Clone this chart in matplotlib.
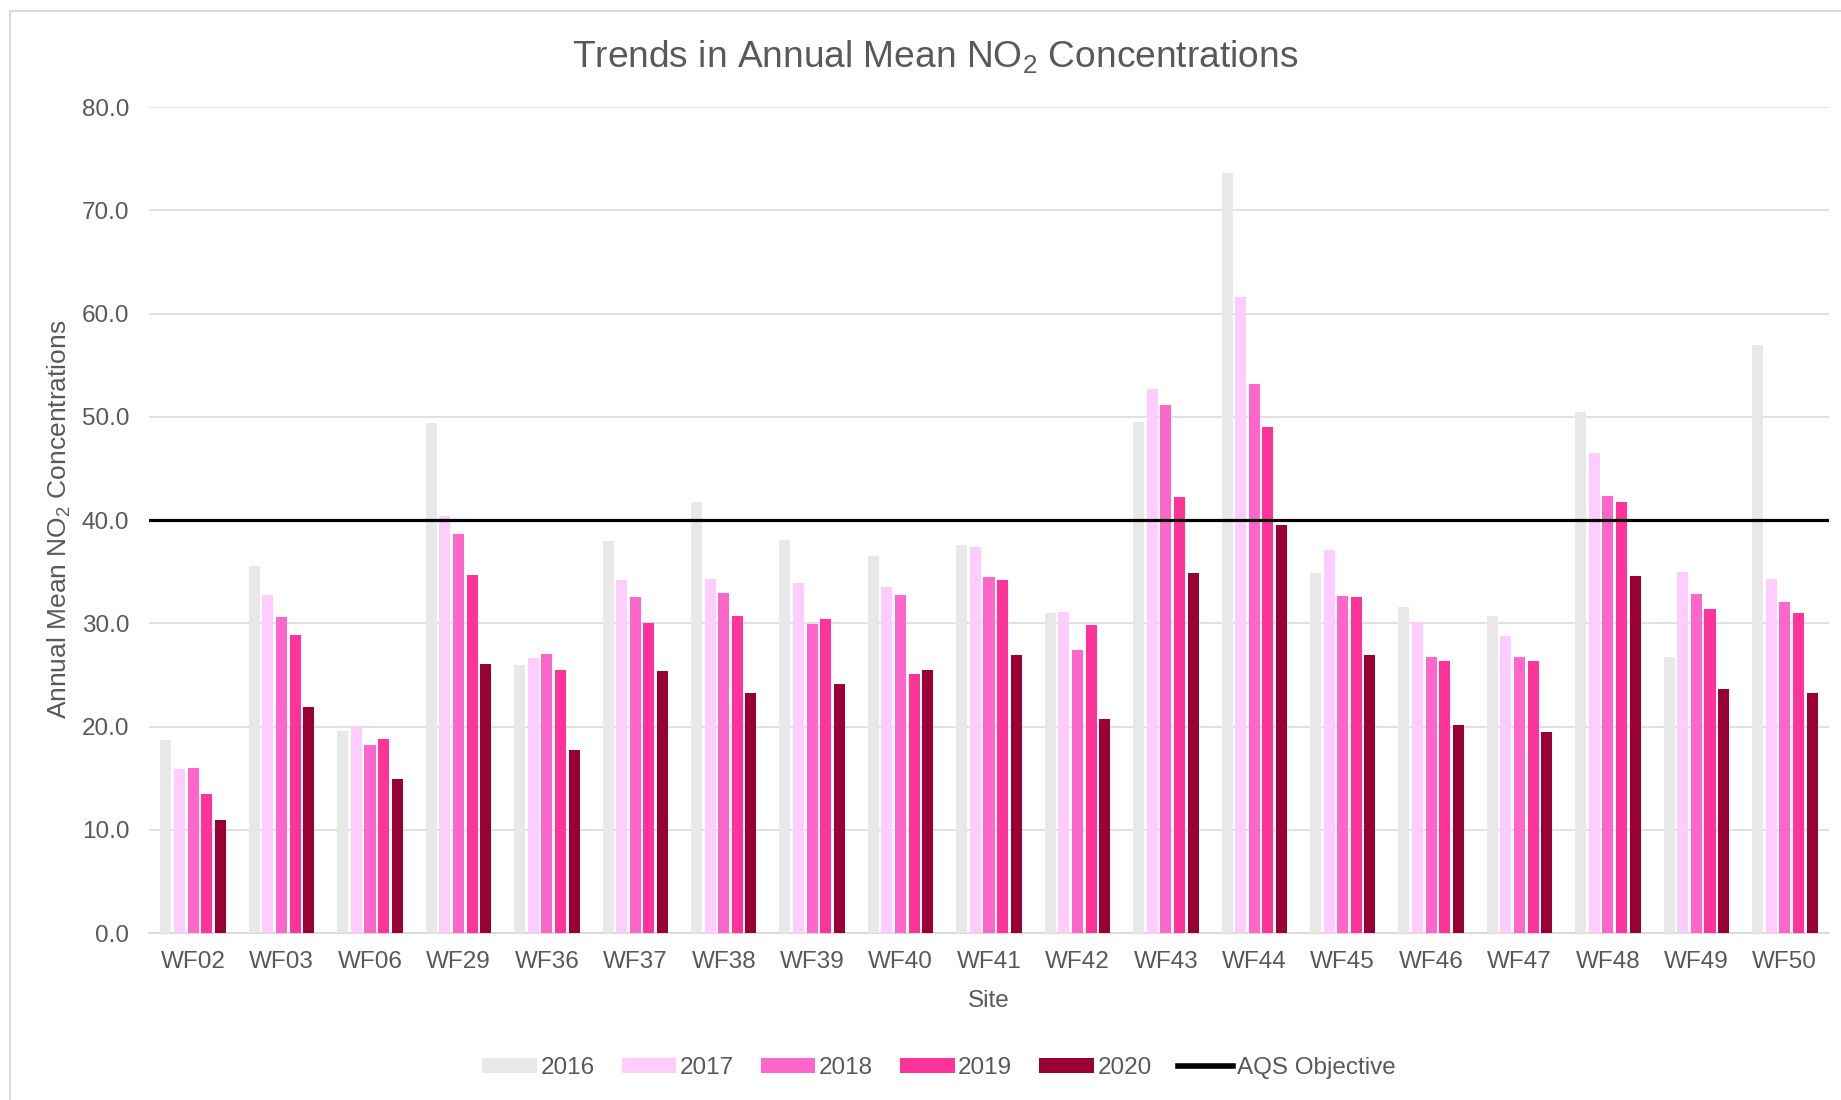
import numpy as np
import matplotlib
matplotlib.use("Agg")
import matplotlib.pyplot as plt
from matplotlib.patches import Rectangle, Patch
from matplotlib.lines import Line2D

plt.rcParams['font.family'] = ['Liberation Sans', 'DejaVu Sans']
plt.rcParams['mathtext.fontset'] = 'custom'
plt.rcParams['mathtext.rm'] = 'Liberation Sans'
plt.rcParams['mathtext.it'] = 'Liberation Sans'
plt.rcParams['mathtext.bf'] = 'Liberation Sans'
plt.rcParams['mathtext.default'] = 'regular'

sites = ["WF02", "WF03", "WF06", "WF29", "WF36", "WF37", "WF38", "WF39", "WF40", "WF41",
         "WF42", "WF43", "WF44", "WF45", "WF46", "WF47", "WF48", "WF49", "WF50"]
years = ["2016", "2017", "2018", "2019", "2020"]

no2_2016 = [18.7, 35.5, 19.6, 49.4, 26.0, 38.0, 41.7, 38.1, 36.5, 37.6,
            31.0, 49.5, 73.6, 34.9, 31.6, 30.7, 50.5, 26.7, 57.0]
no2_2017 = [15.9, 32.7, 20.0, 40.4, 26.6, 34.2, 34.3, 33.9, 33.5, 37.4,
            31.1, 52.7, 61.6, 37.1, 30.1, 28.8, 46.5, 35.0, 34.3]
no2_2018 = [16.0, 30.6, 18.2, 38.6, 27.0, 32.5, 32.9, 29.9, 32.7, 34.5,
            27.4, 51.1, 53.2, 32.6, 26.7, 26.7, 42.3, 32.8, 32.1]
no2_2019 = [13.5, 28.9, 18.8, 34.7, 25.5, 30.0, 30.7, 30.4, 25.1, 34.2,
            29.8, 42.2, 49.0, 32.5, 26.3, 26.3, 41.7, 31.4, 31.0]
no2_2020 = [10.9, 21.9, 14.9, 26.1, 17.7, 25.4, 23.2, 24.1, 25.5, 26.9,
            20.7, 34.9, 39.5, 26.9, 20.1, 19.5, 34.6, 23.6, 23.2]
aqs_objective = 40.0

series = [no2_2016, no2_2017, no2_2018, no2_2019, no2_2020]
colors = ["#E8E8E8", "#FFCCFF", "#FF66CC", "#FF3399", "#990033"]
text_color = "#595959"

fig = plt.figure(figsize=(18.41, 11.0), dpi=100)
ax = fig.add_axes([0.0809, 0.1518, 0.9126, 0.7509])

x = np.arange(len(sites))
pitch = 0.154
width = 0.125
for i, (vals, col) in enumerate(zip(series, colors)):
    ax.bar(x + (i - 2) * pitch, vals, width=width, color=col, zorder=3)

ax.axhline(aqs_objective, color="black", linewidth=2.3, zorder=4)

ax.set_xlim(-0.5, len(sites) - 0.5)
ax.set_ylim(0, 80)
ax.set_yticks(np.arange(0, 81, 10))
ax.set_yticklabels([f"{v:.1f}" for v in np.arange(0, 81, 10)])
ax.set_xticks(x)
ax.set_xticklabels(sites)
ax.tick_params(axis='both', length=0, labelsize=17.5, labelcolor=text_color)
ax.tick_params(axis='y', pad=14)
ax.tick_params(axis='x', pad=13)
ax.grid(axis='y', color="#DCDCDC", linewidth=1.2, zorder=0)
ax.set_axisbelow(True)
for s in ["top", "right", "left"]:
    ax.spines[s].set_visible(False)
ax.spines["bottom"].set_color("#D9D9D9")
ax.spines["bottom"].set_linewidth(1.3)

fig.text(0.508, 0.949, "Trends in Annual Mean NO$_2$ Concentrations",
         ha="center", va="center", fontsize=26.7, color=text_color)
fig.text(0.032, 0.528, "Annual Mean NO$_2$ Concentrations", rotation=90,
         ha="center", va="center", fontsize=19, color=text_color)
fig.text(0.537, 0.090, "Site", ha="center", va="center", fontsize=17.5, color=text_color)

handles = [Patch(facecolor=c, edgecolor="none") for c in colors]
handles.append(Line2D([0], [0], color="black", linewidth=4))
labels = years + ["AQS Objective"]
fig.legend(handles, labels, loc="center", bbox_to_anchor=(0.51, 0.029), ncol=6,
           frameon=False, fontsize=17.5, labelcolor=text_color, handlelength=2.25,
           handleheight=0.55, handletextpad=0.15, columnspacing=1.1)

# chart-area border
fig.add_artist(Rectangle((10 / 1841, -0.05), 1.1, 1 - 11 / 1100 + 0.05,
                         transform=fig.transFigure, fill=False,
                         edgecolor="#D9D9D9", linewidth=1.5, clip_on=False))

fig.savefig("out.png", dpi=100)
